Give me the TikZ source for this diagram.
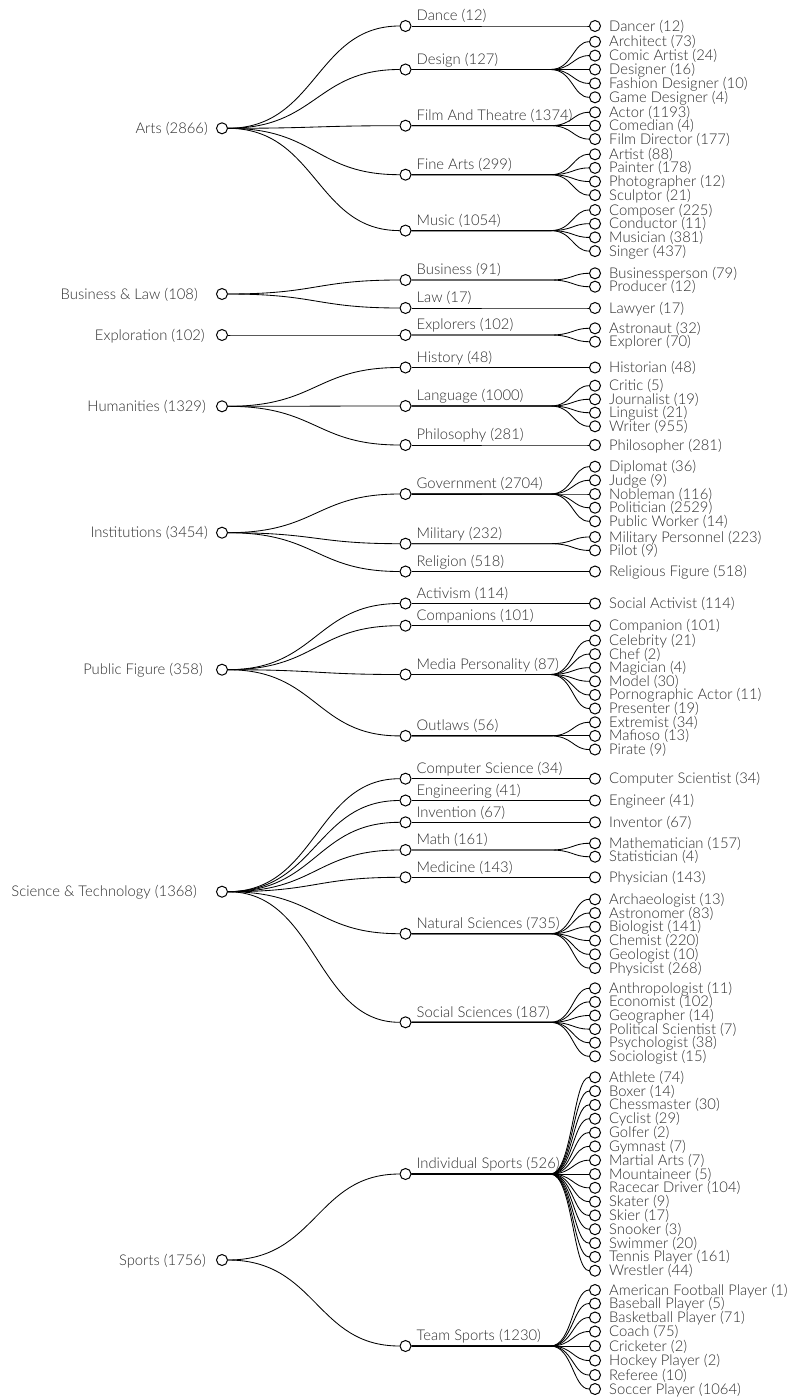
\documentclass[tikz,border=0pt]{standalone}
\usepackage{fontspec}
\IfFontExistsTF{Lato Light}{\setmainfont{Lato Light}}{\setmainfont{Lato}}
\definecolor{txtgray}{RGB}{45,45,45}
\newcommand\lblfont{\fontsize{14.8}{17}\selectfont}
\tikzset{
  dot/.style={circle, draw=black, fill=white, line width=1pt, minimum size=11pt, inner sep=0pt},
  link/.style={draw=black, line width=0.85pt},
  rootlab/.style={anchor=base east, inner sep=0pt, text=txtgray, font=\lblfont},
  midlab/.style={anchor=base west, inner sep=0pt, text=txtgray, font=\lblfont},
  leaflab/.style={anchor=base west, inner sep=0pt, text=txtgray, font=\lblfont},
}
% root: name, y, label right edge, label
\newcommand\RootN[4]{%
  \node[dot] (#1) at (222,#2) {};
  \node[rootlab] (#1t) at (#3,#2+5) {#4};}
% mid: name, y, parent root, label
\newcommand\MidN[4]{%
  \node[dot] (#1) at (405.5,#2) {};
  \node[midlab] (#1t) at (416.5,#2-5.3) {#4};
  \draw[link] (#3) .. controls +(95,0) and +(-90,0) .. (#1);}
% leaf: name, y, parent mid, label
\newcommand\LeafN[4]{%
  \node[dot] (#1) at (595,#2) {};
  \node[leaflab] (#1t) at (609,#2+5) {#4};
  \draw[link] (#3.east) -- ([xshift=139pt]#3.east) .. controls +(22,0) and +(-22,0) .. (#1);}
\begin{document}
\begin{tikzpicture}[x=1pt,y=-1pt]
\path[use as bounding box] (0,0) rectangle (794,1400);

% ---------- Arts ----------
\RootN{r1}{128.3}{208}{Arts (2866)}
\MidN{m1}{26}{r1}{Dance (12)}
\MidN{m2}{69.5}{r1}{Design (127)}
\MidN{m3}{125.7}{r1}{Film And Theatre (1374)}
\MidN{m4}{174.7}{r1}{Fine Arts (299)}
\MidN{m5}{230.6}{r1}{Music (1054)}
\LeafN{l1}{26}{m1}{Dancer (12)}
\LeafN{l2}{41.7}{m2}{Architect (73)}
\LeafN{l3}{55.6}{m2}{Comic Artist (24)}
\LeafN{l4}{69.5}{m2}{Designer (16)}
\LeafN{l5}{83.4}{m2}{Fashion Designer (10)}
\LeafN{l6}{97.3}{m2}{Game Designer (4)}
\LeafN{l7}{112.3}{m3}{Actor (1193)}
\LeafN{l8}{125.7}{m3}{Comedian (4)}
\LeafN{l9}{139.1}{m3}{Film Director (177)}
\LeafN{l10}{154.3}{m4}{Artist (88)}
\LeafN{l11}{167.9}{m4}{Painter (178)}
\LeafN{l12}{181.5}{m4}{Photographer (12)}
\LeafN{l13}{195.1}{m4}{Sculptor (21)}
\LeafN{l14}{210}{m5}{Composer (225)}
\LeafN{l15}{223.7}{m5}{Conductor (11)}
\LeafN{l16}{237.4}{m5}{Musician (381)}
\LeafN{l17}{251.1}{m5}{Singer (437)}

% ---------- Business & Law ----------
\RootN{r2}{294}{198}{Business \& Law (108)}
\MidN{m6}{280}{r2}{Business (91)}
\MidN{m7}{308}{r2}{Law (17)}
\LeafN{l18}{273.3}{m6}{Businessperson (79)}
\LeafN{l19}{286.7}{m6}{Producer (12)}
\LeafN{l20}{308}{m7}{Lawyer (17)}

% ---------- Exploration ----------
\RootN{r3}{335}{205}{Exploration (102)}
\MidN{m8}{335}{r3}{Explorers (102)}
\LeafN{l21}{328.3}{m8}{Astronaut (32)}
\LeafN{l22}{341.7}{m8}{Explorer (70)}

% ---------- Humanities ----------
\RootN{r4}{406.3}{206}{Humanities (1329)}
\MidN{m9}{367.5}{r4}{History (48)}
\MidN{m10}{406}{r4}{Language (1000)}
\MidN{m11}{445}{r4}{Philosophy (281)}
\LeafN{l23}{367.5}{m9}{Historian (48)}
\LeafN{l24}{385.7}{m10}{Critic (5)}
\LeafN{l25}{399.3}{m10}{Journalist (19)}
\LeafN{l26}{412.7}{m10}{Linguist (21)}
\LeafN{l27}{426.3}{m10}{Writer (955)}
\LeafN{l28}{445}{m11}{Philosopher (281)}

% ---------- Institutions ----------
\RootN{r5}{532.7}{208}{Institutions (3454)}
\MidN{m12}{494}{r5}{Government (2704)}
\MidN{m13}{543.7}{r5}{Military (232)}
\MidN{m14}{571.5}{r5}{Religion (518)}
\LeafN{l29}{466.7}{m12}{Diplomat (36)}
\LeafN{l30}{480.3}{m12}{Judge (9)}
\LeafN{l31}{494}{m12}{Nobleman (116)}
\LeafN{l32}{507.7}{m12}{Politician (2529)}
\LeafN{l33}{521.3}{m12}{Public Worker (14)}
\LeafN{l34}{537}{m13}{Military Personnel (223)}
\LeafN{l35}{550.4}{m13}{Pilot (9)}
\LeafN{l36}{571.5}{m14}{Religious Figure (518)}

% ---------- Public Figure ----------
\RootN{r6}{669.7}{203}{Public Figure (358)}
\MidN{m15}{603.5}{r6}{Activism (114)}
\MidN{m16}{625.7}{r6}{Companions (101)}
\MidN{m17}{674.5}{r6}{Media Personality (87)}
\MidN{m18}{735.9}{r6}{Outlaws (56)}
\LeafN{l37}{603.5}{m15}{Social Activist (114)}
\LeafN{l38}{625.7}{m16}{Companion (101)}
\LeafN{l39}{640.5}{m17}{Celebrity (21)}
\LeafN{l40}{654.1}{m17}{Chef (2)}
\LeafN{l41}{667.7}{m17}{Magician (4)}
\LeafN{l42}{681.3}{m17}{Model (30)}
\LeafN{l43}{694.9}{m17}{Pornographic Actor (11)}
\LeafN{l44}{708.5}{m17}{Presenter (19)}
\LeafN{l45}{722.3}{m18}{Extremist (34)}
\LeafN{l46}{735.9}{m18}{Mafioso (13)}
\LeafN{l47}{749.5}{m18}{Pirate (9)}

% ---------- Science & Technology ----------
\RootN{r7}{891.7}{197}{Science \& Technology (1368)}
\MidN{m19}{778.7}{r7}{Computer Science (34)}
\MidN{m20}{800.5}{r7}{Engineering (41)}
\MidN{m21}{822.3}{r7}{Invention (67)}
\MidN{m22}{850}{r7}{Math (161)}
\MidN{m23}{877.3}{r7}{Medicine (143)}
\MidN{m24}{933.7}{r7}{Natural Sciences (735)}
\MidN{m25}{1022.3}{r7}{Social Sciences (187)}
\LeafN{l48}{778.7}{m19}{Computer Scientist (34)}
\LeafN{l49}{800.5}{m20}{Engineer (41)}
\LeafN{l50}{822.3}{m21}{Inventor (67)}
\LeafN{l51}{843.3}{m22}{Mathematician (157)}
\LeafN{l52}{856.7}{m22}{Statistician (4)}
\LeafN{l53}{877.3}{m23}{Physician (143)}
\LeafN{l54}{899.3}{m24}{Archaeologist (13)}
\LeafN{l55}{913.05}{m24}{Astronomer (83)}
\LeafN{l56}{926.8}{m24}{Biologist (141)}
\LeafN{l57}{940.55}{m24}{Chemist (220)}
\LeafN{l58}{954.3}{m24}{Geologist (10)}
\LeafN{l59}{968.05}{m24}{Physicist (268)}
\LeafN{l60}{988.3}{m25}{Anthropologist (11)}
\LeafN{l61}{1001.9}{m25}{Economist (102)}
\LeafN{l62}{1015.5}{m25}{Geographer (14)}
\LeafN{l63}{1029.1}{m25}{Political Scientist (7)}
\LeafN{l64}{1042.7}{m25}{Psychologist (38)}
\LeafN{l65}{1056.3}{m25}{Sociologist (15)}

% ---------- Sports ----------
\RootN{r8}{1260}{206}{Sports (1756)}
\MidN{m26}{1174}{r8}{Individual Sports (526)}
\MidN{m27}{1346}{r8}{Team Sports (1230)}
\LeafN{l66}{1077.3}{m26}{Athlete (74)}
\LeafN{l67}{1091.1}{m26}{Boxer (14)}
\LeafN{l68}{1104.9}{m26}{Chessmaster (30)}
\LeafN{l69}{1118.7}{m26}{Cyclist (29)}
\LeafN{l70}{1132.6}{m26}{Golfer (2)}
\LeafN{l71}{1146.4}{m26}{Gymnast (7)}
\LeafN{l72}{1160.2}{m26}{Martial Arts (7)}
\LeafN{l73}{1174}{m26}{Mountaineer (5)}
\LeafN{l74}{1187.8}{m26}{Racecar Driver (104)}
\LeafN{l75}{1201.6}{m26}{Skater (9)}
\LeafN{l76}{1215.4}{m26}{Skier (17)}
\LeafN{l77}{1229.2}{m26}{Snooker (3)}
\LeafN{l78}{1243.1}{m26}{Swimmer (20)}
\LeafN{l79}{1256.9}{m26}{Tennis Player (161)}
\LeafN{l80}{1270.7}{m26}{Wrestler (44)}
\LeafN{l81}{1290}{m27}{American Football Player (1)}
\LeafN{l82}{1303.5}{m27}{Baseball Player (5)}
\LeafN{l83}{1317.5}{m27}{Basketball Player (71)}
\LeafN{l84}{1331.5}{m27}{Coach (75)}
\LeafN{l85}{1346}{m27}{Cricketer (2)}
\LeafN{l86}{1360.5}{m27}{Hockey Player (2)}
\LeafN{l87}{1375}{m27}{Referee (10)}
\LeafN{l88}{1389}{m27}{Soccer Player (1064)}
\end{tikzpicture}
\end{document}
